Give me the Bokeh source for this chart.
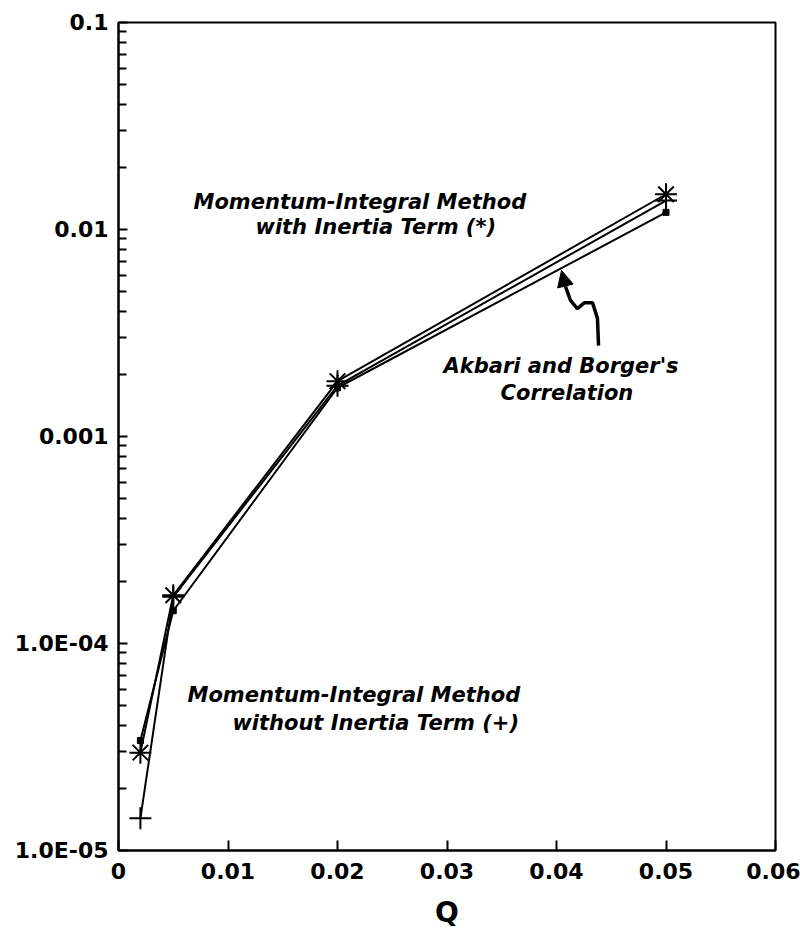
from bokeh.plotting import figure
from bokeh.models import (Range1d, FixedTicker, CustomJSTickFormatter, Label,
                          Arrow, NormalHead)
from bokeh.embed import file_html
from bokeh.resources import INLINE

# Flow parameter Q and dimensionless L for the three solutions
q = [0.002, 0.005, 0.02, 0.05]
l_with_inertia = [2.97e-5, 1.71e-4, 1.85e-3, 0.0148]
l_without_inertia = [1.43e-5, 1.68e-4, 1.76e-3, 0.0138]
l_akbari_borger = [3.4e-5, 1.44e-4, 1.72e-3, 0.0121]

x_ticks = [0, 0.01, 0.02, 0.03, 0.04, 0.05, 0.06]
x_tick_labels = ["0", "0.01", "0.02", "0.03", "0.04", "0.05", "0.06"]
y_ticks = [1e-5, 1e-4, 1e-3, 1e-2, 1e-1]
y_tick_labels = ["1.0E-05", "1.0E-04", "0.001", "0.01", "0.1"]

# curly pointer from the correlation caption up to its curve
arrow_q = [0.04384, 0.04374, 0.04329, 0.04256, 0.0419, 0.04128, 0.04082]
arrow_l = [2.75e-3, 3.72e-3, 4.43e-3, 4.43e-3, 4.15e-3, 4.54e-3, 5.31e-3]
arrow_tip = (0.04046, 6.34e-3)

FONT = "DejaVu Sans"

p = figure(width=800, height=939, y_axis_type="log",
           x_range=Range1d(0, 0.06), y_range=Range1d(1e-5, 0.1),
           output_backend="svg", toolbar_location=None,
           min_border_left=118, min_border_right=25,
           min_border_top=22, min_border_bottom=89)
p.grid.visible = False
p.background_fill_color = "white"
p.border_fill_color = "white"
p.outline_line_color = "black"
p.outline_line_width = 2

# x axis
xa = p.xaxis[0]
xa.ticker = FixedTicker(ticks=x_ticks)
xa.formatter = CustomJSTickFormatter(args=dict(t=x_ticks, lab=x_tick_labels), code="""
    for (let i = 0; i < t.length; i++) { if (Math.abs(tick - t[i]) < 1e-9) return lab[i]; }
    return "";
""")
xa.major_tick_in = 10
xa.major_tick_out = 0
xa.minor_tick_line_color = None
xa.axis_line_width = 2
xa.major_tick_line_width = 2
xa.major_label_text_font = FONT
xa.major_label_text_font_style = "bold"
xa.major_label_text_font_size = "22px"
xa.major_label_text_color = "black"
xa.major_label_standoff = 12
xa.axis_label = "Q"
xa.axis_label_text_font = FONT
xa.axis_label_text_font_style = "bold"
xa.axis_label_text_font_size = "28px"
xa.axis_label_text_color = "black"
xa.axis_label_standoff = 14

# y axis (log)
minor = [k * 10.0 ** e for e in range(-5, -1) for k in range(2, 10)]
ya = p.yaxis[0]
ya.ticker = FixedTicker(ticks=y_ticks, minor_ticks=minor)
ya.formatter = CustomJSTickFormatter(args=dict(t=y_ticks, lab=y_tick_labels), code="""
    for (let i = 0; i < t.length; i++) { if (Math.abs(Math.log10(tick) - Math.log10(t[i])) < 1e-6) return lab[i]; }
    return "";
""")
ya.major_tick_in = 9
ya.major_tick_out = 0
ya.minor_tick_in = 8
ya.minor_tick_out = 0
ya.axis_line_width = 2
ya.major_tick_line_width = 2
ya.minor_tick_line_width = 2
ya.major_label_text_font = FONT
ya.major_label_text_font_style = "bold"
ya.major_label_text_font_size = "22px"
ya.major_label_text_color = "black"
ya.major_label_standoff = 10

# series
p.line(q, l_with_inertia, line_color="black", line_width=2)
p.line(q, l_without_inertia, line_color="black", line_width=2)
p.line(q, l_akbari_borger, line_color="black", line_width=2)
p.scatter(q, l_with_inertia, marker="asterisk", size=22, line_color="black", line_width=2)
p.scatter(q, l_without_inertia, marker="cross", size=22, line_color="black", line_width=2)
p.scatter(q, l_akbari_borger, marker="square", size=6, line_color="black", fill_color="black")

# pointer
p.line(arrow_q, arrow_l, line_color="black", line_width=3.5)
p.add_layout(Arrow(end=NormalHead(size=16, fill_color="black", line_color="black"),
                   x_start=arrow_q[-1], y_start=arrow_l[-1],
                   x_end=arrow_tip[0], y_end=arrow_tip[1],
                   line_color="black", line_width=3.5))

def caption(x, y, text, size="21px", style="bold italic"):
    p.add_layout(Label(x=x, y=y, text=text, text_font=FONT, text_font_style=style,
                       text_font_size=size, text_color="black",
                       text_baseline="middle", text_align="left"))

caption(0.00685, 0.01365, "Momentum-Integral Method")
caption(0.01251, 0.01023, "with Inertia Term (*)")
caption(0.00630, 5.61e-5, "Momentum-Integral Method")
caption(0.01040, 4.15e-5, "without Inertia Term (+)")
caption(0.02968, 2.20e-3, "Akbari and Borger's")
caption(0.03489, 1.62e-3, "Correlation")
caption(-0.0063, 4.5e-3, "L", size="28px", style="bold")

open("out.html", "w").write(file_html(p, INLINE))
